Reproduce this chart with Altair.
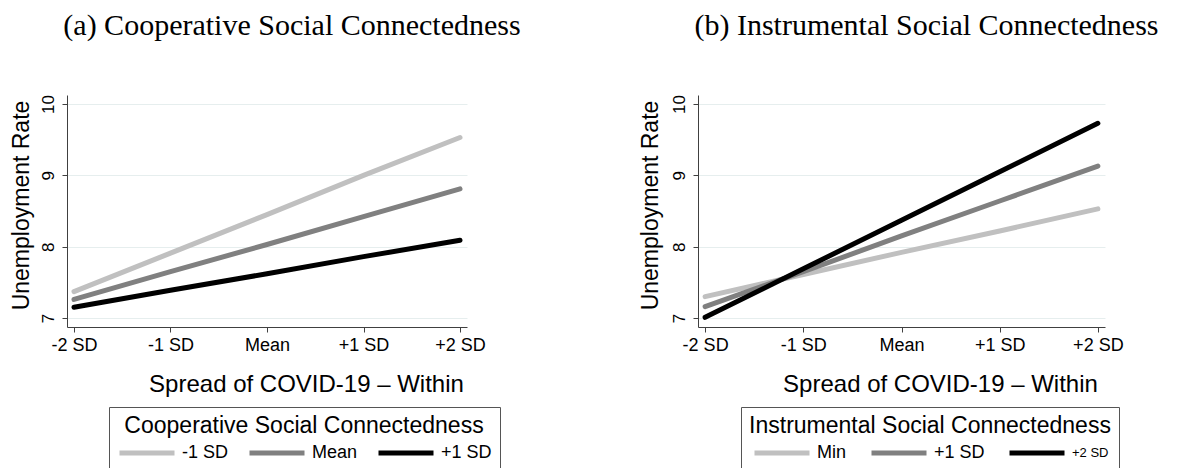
import altair as alt
import pandas as pd

# ---- data ----
categories = ["-2 SD", "-1 SD", "Mean", "+1 SD", "+2 SD"]

coop_levels = ["-1 SD", "Mean", "+1 SD"]
coop_low = [7.37, 7.91, 8.45, 9.00, 9.53]
coop_mean = [7.26, 7.65, 8.03, 8.42, 8.81]
coop_high = [7.15, 7.39, 7.62, 7.86, 8.09]

instr_levels = ["Min", "+1 SD", "+2 SD"]
instr_min = [7.30, 7.61, 7.92, 8.22, 8.53]
instr_1sd = [7.16, 7.65, 8.15, 8.64, 9.13]
instr_2sd = [7.01, 7.69, 8.37, 9.05, 9.73]

y_ticks = [7, 8, 9, 10]
grays = ["#c0c0c0", "#808080", "#000000"]

SANS = "Liberation Sans"
SERIF = "Liberation Serif"


def make_df(levels, series, field):
    rows = []
    for lev, vals in zip(levels, series):
        for cat, v in zip(categories, vals):
            rows.append({"spread": cat, "rate": v, field: lev})
    return pd.DataFrame(rows)


def panel(title, legend_title, levels, series, width, xtitle_x, ytitle_x, legend_x,
          label_size, col_pad):
    df = make_df(levels, series, legend_title)
    return (
        alt.Chart(df)
        .mark_line(strokeWidth=5, strokeCap="round")
        .encode(
            x=alt.X(
                "spread:O",
                sort=categories,
                scale=alt.Scale(type="point", padding=0.0725),
                axis=alt.Axis(
                    title="Spread of COVID-19 – Within",
                    labelAngle=0,
                    labelFont=SANS,
                    labelFontSize=18,
                    labelColor="black",
                    labelPadding=4,
                    tickSize=5,
                    tickColor="#404040",
                    domainColor="#404040",
                    grid=False,
                    titleFont=SANS,
                    titleFontSize=24,
                    titleFontWeight="normal",
                    titleColor="black",
                    titleX=xtitle_x,
                    titleY=64,
                    titleBaseline="alphabetic",
                    titleAlign="center",
                ),
            ),
            y=alt.Y(
                "rate:Q",
                scale=alt.Scale(domain=[6.874, 10.126], nice=False, zero=False),
                axis=alt.Axis(
                    values=y_ticks,
                    title="Unemployment Rate",
                    labelAngle=270,
                    labelFont=SANS,
                    labelFontSize=17,
                    labelColor="black",
                    labelPadding=5,
                    tickSize=5,
                    tickColor="#404040",
                    domainColor="#404040",
                    grid=True,
                    gridColor="#e6eeee",
                    titleFont=SANS,
                    titleFontSize=23,
                    titleFontWeight="normal",
                    titleColor="black",
                    titleAngle=270,
                    titleX=ytitle_x,
                    titleY=110,
                    titleBaseline="alphabetic",
                    titleAlign="center",
                ),
            ),
            color=alt.Color(
                f"{legend_title}:N",
                sort=levels,
                scale=alt.Scale(domain=levels, range=grays),
                legend=alt.Legend(
                    orient="none",
                    legendX=legend_x,
                    legendY=312,
                    direction="horizontal",
                    columns=3,
                    title=legend_title,
                    titleAnchor="middle",
                    titleOrient="top",
                    titleFont=SANS,
                    titleFontSize=23,
                    titleFontWeight="normal",
                    titleColor="black",
                    titlePadding=5,
                    titleLimit=0,
                    labelFont=SANS,
                    labelFontSize=label_size,
                    labelColor="black",
                    labelOffset=5,
                    labelLimit=0,
                    symbolType="stroke",
                    symbolSize=3025,
                    symbolStrokeWidth=5,
                    clipHeight=20,
                    columnPadding=col_pad,
                    rowPadding=0,
                    padding=8,
                    strokeColor="#555555",
                ),
            ),
        )
        .properties(
            width=width,
            height=232,
            title=alt.TitleParams(
                title,
                font=SERIF,
                fontSize=30,
                fontWeight="normal",
                color="black",
                anchor="middle",
                frame="group",
                dx=25,
                offset=30,
                baseline="alphabetic",
            ),
        )
    )


left = panel(
    "(a) Cooperative Social Connectedness",
    "Cooperative Social Connectedness",
    coop_levels,
    [coop_low, coop_mean, coop_high],
    400, 239, -39, 42, 18, 18,
)
right = panel(
    "(b) Instrumental Social Connectedness",
    "Instrumental Social Connectedness",
    instr_levels,
    [instr_min, instr_1sd, instr_2sd],
    407, 242, -41, 43,
    alt.ExprRef("datum.label == '+2 SD' ? 13 : 18"), 22,
)

chart = (
    alt.hconcat(left, right, spacing=117)
    .resolve_scale(color="independent")
    .configure_view(stroke=None)
    .properties(padding={"left": 1, "top": 2, "right": 5, "bottom": 0}, background="white")
)

chart.save("out.html", embed_options={"renderer": "svg", "actions": False})
